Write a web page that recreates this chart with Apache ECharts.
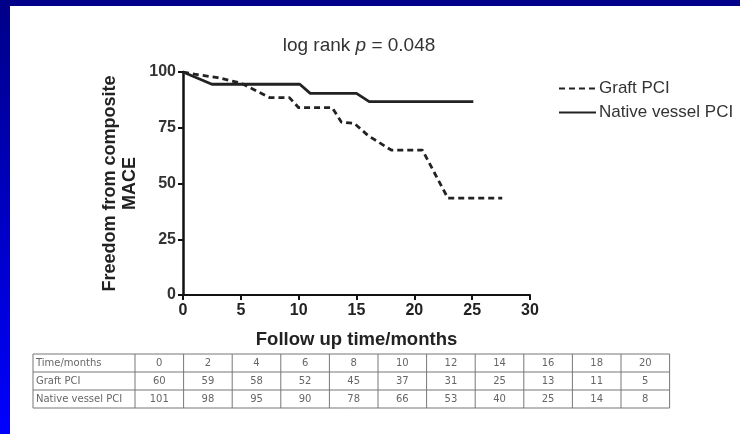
<!DOCTYPE html>
<html>
<head>
<meta charset="utf-8">
<script src="https://cdn.jsdelivr.net/npm/echarts@6/dist/echarts.min.js"></script>
<style>
html,body{margin:0;padding:0;background:#fff;}
#c{width:740px;height:434px;}
</style>
</head>
<body>
<div id="c"></div>
<script>
// Kaplan-Meier curves (time in months, survival %)
const graftTime = [0, 1, 3, 5, 7.5, 9.2, 10, 12.9, 13.7, 14.8, 16, 18, 20.7, 22.9, 27.6];
const graftSurv = [100, 99, 97.5, 95, 88.5, 88.5, 84, 84, 77.5, 77, 71.5, 65, 65, 43.4, 43.4];
const nativeTime = [0, 2.5, 10.1, 11, 15, 16.1, 25.1];
const nativeSurv = [100, 94.5, 94.5, 90.4, 90.4, 86.7, 86.7];

// Number-at-risk table
const tableMonths = [0, 2, 4, 6, 8, 10, 12, 14, 16, 18, 20];
const graftRisk = [60, 59, 58, 52, 45, 37, 31, 25, 13, 11, 5];
const nativeRisk = [101, 98, 95, 90, 78, 66, 53, 40, 25, 14, 8];
const rowLabels = ['Time/months', 'Graft PCI', 'Native vessel PCI'];

const seriesNames = ['Graft PCI', 'Native vessel PCI'];

function pairs(t, s) { return t.map((v, i) => [v, s[i]]); }

const chart = echarts.init(document.getElementById('c'));

// table graphics
const tbl = [];
const tX0 = 33, tY0 = 354, rowH = 18, firstW = 102, colW = 48.6;
const rows = [tableMonths, graftRisk, nativeRisk];
const totalW = firstW + colW * tableMonths.length;
const tFont = '10px "DejaVu Sans", sans-serif';
tbl.push({type: 'rect', shape: {x: tX0, y: tY0, width: totalW, height: rowH * 3},
  style: {fill: 'none', stroke: '#777', lineWidth: 1}});
for (let r = 1; r < 3; r++) {
  tbl.push({type: 'line', shape: {x1: tX0, y1: tY0 + r * rowH, x2: tX0 + totalW, y2: tY0 + r * rowH},
    style: {stroke: '#777', lineWidth: 1}});
}
for (let c = 0; c < tableMonths.length; c++) {
  const x = tX0 + firstW + c * colW;
  tbl.push({type: 'line', shape: {x1: x, y1: tY0, x2: x, y2: tY0 + rowH * 3},
    style: {stroke: '#777', lineWidth: 1}});
}
for (let r = 0; r < 3; r++) {
  tbl.push({type: 'text', x: tX0 + 3, y: tY0 + r * rowH + 9,
    style: {text: rowLabels[r], fill: '#666', verticalAlign: 'middle', font: tFont}});
  for (let c = 0; c < rows[r].length; c++) {
    tbl.push({type: 'text', x: tX0 + firstW + c * colW + colW / 2, y: tY0 + r * rowH + 9,
      style: {text: String(rows[r][c]), fill: '#666', align: 'center', verticalAlign: 'middle', font: tFont}});
  }
}

const option = {
  backgroundColor: '#ffffff',
  animation: false,
  textStyle: {fontFamily: 'Liberation Sans, Arial, sans-serif'},
  title: {
    text: '{a|log rank }{i|p}{a| = 0.048}',
    left: 354, top: 31, textAlign: 'center',
    textStyle: {fontWeight: 'normal', rich: {
      a: {fontSize: 19, color: '#333', fontWeight: 'normal', fontFamily: 'Liberation Sans'},
      i: {fontSize: 19, color: '#333', fontWeight: 'normal', fontStyle: 'italic', fontFamily: 'Liberation Sans'}
    }}
  },
  legend: {
    orient: 'vertical', left: 553, top: 75, itemGap: 7,
    itemWidth: 37, itemHeight: 14,
    data: seriesNames,
    itemStyle: {opacity: 0},
    textStyle: {fontSize: 17, color: '#333', padding: [0, 0, 0, -2]}
  },
  grid: {left: 183, right: 210, top: 72, bottom: 139},
  xAxis: {
    type: 'value', min: 0, max: 30, interval: 5,
    name: 'Follow up time/months', nameLocation: 'middle', nameGap: 35,
    nameTextStyle: {fontSize: 18.5, fontWeight: 'bold', color: '#222'},
    axisLine: {onZero: false, lineStyle: {color: '#111', width: 2}},
    axisTick: {length: 5, lineStyle: {color: '#111', width: 2}},
    axisLabel: {fontSize: 16, fontWeight: 'bold', color: '#222', margin: 8},
    splitLine: {show: false}
  },
  yAxis: {
    type: 'value', min: 0, max: 100, interval: 25,
    name: 'Freedom from composite\nMACE', nameLocation: 'middle', nameGap: 43,
    nameTextStyle: {fontSize: 18, fontWeight: 'bold', color: '#222', lineHeight: 20},
    axisLine: {show: true, lineStyle: {color: '#111', width: 2.5}},
    axisTick: {show: true, length: 5, lineStyle: {color: '#111', width: 2}},
    axisLabel: {fontSize: 16, fontWeight: 'bold', color: '#333', margin: 7},
    splitLine: {show: false}
  },
  series: [
    {name: seriesNames[0], type: 'line', data: pairs(graftTime, graftSurv),
      symbol: 'none', color: '#222',
      lineStyle: {color: '#222', width: 2.8, type: [6, 4]}},
    {name: seriesNames[1], type: 'line', data: pairs(nativeTime, nativeSurv),
      symbol: 'none', color: '#222',
      lineStyle: {color: '#222', width: 2.8, type: 'solid'}}
  ],
  graphic: [
    {type: 'rect', shape: {x: 0, y: 0, width: 740, height: 6}, style: {fill: '#00008a'}, z: 100},
    {type: 'rect', shape: {x: 0, y: 0, width: 10, height: 434},
      style: {fill: new echarts.graphic.LinearGradient(0, 0, 0, 1, [
        {offset: 0, color: '#000088'}, {offset: 1, color: '#0000ff'}])}, z: 100}
  ].concat(tbl)
};
chart.setOption(option);
</script>
</body>
</html>
